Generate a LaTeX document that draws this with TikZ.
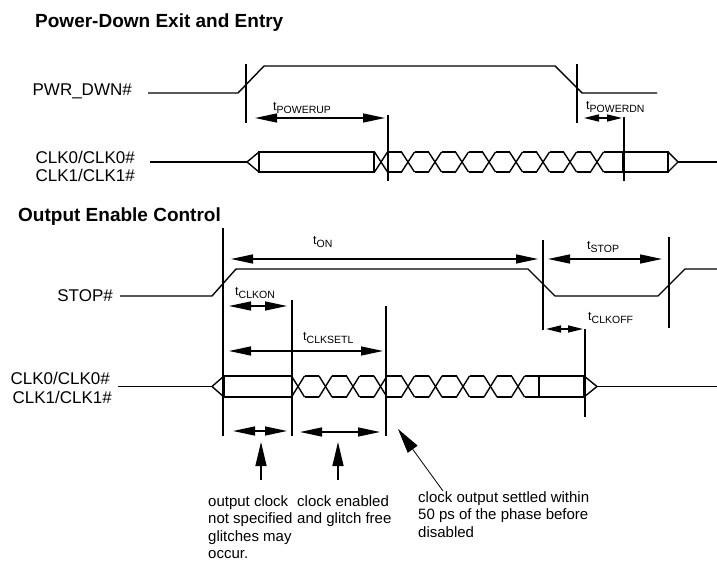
\documentclass[tikz,border=0pt]{standalone}
\usepackage{fontspec}
\setmainfont{Liberation Sans}
\usetikzlibrary{arrows.meta,positioning}
\tikzset{sig/.style={line width=1.4pt, line join=miter},
  tmark/.style={line width=1.5pt},
  dim/.style={{Triangle[length=22pt,width=9pt]}-{Triangle[length=22pt,width=9pt]}, line width=1.4pt},
  shortdim/.style={{Triangle[length=15pt,width=7pt]}-{Triangle[length=15pt,width=7pt]}, line width=1.4pt},
  callout/.style={-{Triangle[length=24pt,width=11pt]}, line width=1.4pt},
  thincallout/.style={-{Triangle[length=25pt,width=12pt]}, line width=0.8pt},
  heading/.style={anchor=base west, inner sep=0pt, font=\bfseries\fontsize{19}{22}\selectfont},
  signame/.style={anchor=base east, inner sep=0pt, font=\fontsize{17}{20}\selectfont},
  tlabel/.style={anchor=base west, inner sep=0pt},
  note/.style={anchor=north west, align=left, inner sep=0pt, font=\fontsize{15}{17.5}\selectfont}
}
\newcommand{\tlab}[1]{{\fontsize{12.5}{14}\selectfont t}\raisebox{-3pt}{\fontsize{10.5}{12}\selectfont #1}}

\begin{document}
\begin{tikzpicture}[x=1pt,y=-1pt]
   \useasboundingbox (0,0) rectangle (717,561);

   %Power-down exit and entry
   \node[heading] (head-pd) at (35,28) {Power-Down Exit and Entry};

   %PWR_DWN# signal
   \node[signame] (name-pwr) at (132,96) {PWR\_DWN\#};
   \draw[sig] (148,93) -- (238,93) -- (264,66) -- (555,66) -- (582,93) -- (657,93);

   %time markers
   \draw[tmark] (246,64) -- (246,123);
   \draw[tmark] (388,115) -- (388,181);
   \draw[tmark] (577,64) -- (577,123);
   \draw[tmark] (624,117) -- (624,181);

   \coordinate (pu-a) at (255,118);
   \coordinate (pu-b) at (385,118);
   \coordinate (pd-a) at (584,118);
   \coordinate (pd-b) at (622,118);
   \draw[dim] (pu-a) -- (pu-b);
   \draw[shortdim] (pd-a) -- (pd-b);
   \node[tlabel] (lbl-powerup) at (273,111) {\tlab{POWERUP}};
   \node[tlabel] (lbl-powerdn) at (586,110) {\tlab{POWERDN}};

   %clock outputs
   \node[signame] (name-clk0a) at (135,164) {CLK0/CLK0\#};
   \node[signame] (name-clk1a) at (135,182) {CLK1/CLK1\#};
   \draw[sig] (150,162) -- (247,162);
   \draw[sig] (259,152) -- (247,162) -- (259,172);
   \draw[sig] (259,152) rectangle (374,172);
   \foreach \c in {381,408,...,597}
      \draw[sig] (\c-6.5,152) -- (\c+6.5,172) (\c-6.5,172) -- (\c+6.5,152);
   \foreach \c in {381,408,...,570}
      \draw[sig] (\c+6.5,152) -- (\c+20.5,152) (\c+6.5,172) -- (\c+20.5,172);
   \draw[sig] (603.5,152) -- (623,152) (603.5,172) -- (623,172);
   \draw[sig] (623,152) rectangle (668,172);
   \draw[sig] (668,152) -- (678,162) -- (668,172);
   \draw[sig] (678,162) -- (717,162);

   %Output enable control
   \node[heading] (head-oe) at (18,222) {Output Enable Control};

   %STOP# signal
   \node[signame] (name-stop) at (113,301) {STOP\#};
   \draw[sig] (120,296) -- (212,296) -- (236,269) -- (528,269) -- (555,296)
      -- (658,296) -- (685,269) -- (717,269);

   %time markers
   \draw[tmark] (223,228) -- (223,436);
   \draw[tmark] (292,300) -- (292,436);
   \draw[tmark] (386,306) -- (386,436);
   \draw[tmark] (543,240) -- (543,330);
   \draw[tmark] (669,237) -- (669,328);
   \draw[tmark] (585,329) -- (585,417);

   \coordinate (on-a) at (231,259);
   \coordinate (on-b) at (538,259);
   \coordinate (stop-a) at (548,259);
   \coordinate (stop-b) at (662,259);
   \coordinate (ckon-a) at (229,306);
   \coordinate (ckon-b) at (287,306);
   \coordinate (setl-a) at (229,351);
   \coordinate (setl-b) at (383,351);
   \coordinate (ckoff-a) at (546,329);
   \coordinate (ckoff-b) at (583,329);
   \draw[dim] (on-a) -- (on-b);
   \draw[dim] (stop-a) -- (stop-b);
   \draw[dim] (ckon-a) -- (ckon-b);
   \draw[dim] (setl-a) -- (setl-b);
   \draw[shortdim] (ckoff-a) -- (ckoff-b);
   \node[tlabel] (lbl-on) at (313,245) {\tlab{ON}};
   \node[tlabel] (lbl-stop) at (587,250) {\tlab{STOP}};
   \node[tlabel] (lbl-clkon) at (235,295) {\tlab{CLKON}};
   \node[tlabel] (lbl-clksetl) at (303,340) {\tlab{CLKSETL}};
   \node[tlabel] (lbl-clkoff) at (588,320) {\tlab{CLKOFF}};

   %clock outputs
   \node[signame] (name-clk0b) at (110,384) {CLK0/CLK0\#};
   \node[signame] (name-clk1b) at (112,403) {CLK1/CLK1\#};
   \draw[sig] (118,386.5) -- (212,386.5);
   \draw[sig] (224,376) -- (212,386.5) -- (224,397);
   \draw[sig] (224,376) rectangle (292,397);
   \foreach \c in {298,325.5,...,518}
      \draw[sig] (\c-6.5,376) -- (\c+6.5,397) (\c-6.5,397) -- (\c+6.5,376);
   \foreach \c in {298,325.5,...,490.5}
      \draw[sig] (\c+6.5,376) -- (\c+21,376) (\c+6.5,397) -- (\c+21,397);
   \draw[sig] (524.5,376) -- (539,376) (524.5,397) -- (539,397);
   \draw[sig] (539,376) rectangle (584,397);
   \draw[sig] (584,376) -- (597,386.5) -- (584,397);
   \draw[sig] (597,386.5) -- (717,386.5);

   %regions below the clock
   \coordinate (rg1-a) at (233,431);
   \coordinate (rg1-b) at (287,431);
   \coordinate (rg2-a) at (300,432);
   \coordinate (rg2-b) at (380,432);
   \draw[dim] (rg1-a) -- (rg1-b);
   \draw[dim] (rg2-a) -- (rg2-b);

   %notes
   \node[note] (note-glitch) at (208,495) {output clock\\not specified\\glitches may\\occur.};
   \node[note] (note-free) at (297,495) {clock enabled\\and glitch free};
   \node[note] (note-settled) at (418,491) {clock output settled within\\50 ps of the phase before\\disabled};
   \draw[callout] (261,480) -- (261,442);
   \draw[callout] (338,480) -- (338,442);
   \draw[thincallout] (443,491) -- (398,429);

\end{tikzpicture}
\end{document}
